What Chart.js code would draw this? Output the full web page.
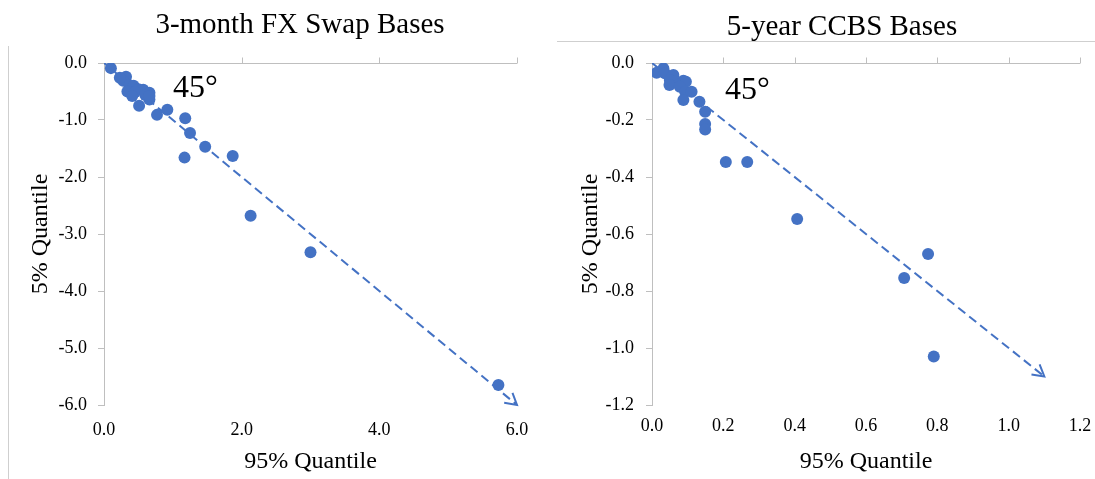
<!DOCTYPE html>
<html>
<head>
<meta charset="utf-8">
<script src="https://cdn.jsdelivr.net/npm/chart.js@4"></script>
<style>
  html, body { margin: 0; padding: 0; background: #fff; }
  #wrap { position: relative; width: 1095px; height: 479px; overflow: hidden; font-family: 'Liberation Serif', 'Times New Roman', serif; }
  canvas { position: absolute; top: 0; }
  .ttl { position: absolute; font-size: 29px; color: #000; white-space: nowrap; transform: translate(-50%, -50%); }
  .deg { position: absolute; font-size: 32px; color: #000; white-space: nowrap; transform: translateY(-50%); }
  .frame { position: absolute; background: #cfcfcf; }
</style>
</head>
<body>
<div id="wrap">
  <div class="frame" style="left:8px;top:46px;width:1px;height:433px;"></div>
  <div class="frame" style="left:557px;top:41px;width:538px;height:1px;"></div>
  <canvas id="c1" width="548" height="479" style="left:0;"></canvas>
  <canvas id="c2" width="547" height="479" style="left:548px;"></canvas>
  <div class="ttl" style="left:300px;top:23px;">3-month FX Swap Bases</div>
  <div class="ttl" style="left:842px;top:25px;">5-year CCBS Bases</div>
  <div class="deg" style="left:173px;top:86px;">45°</div>
  <div class="deg" style="left:725px;top:88px;">45°</div>
</div>
<script>
// ---- Data: 3-month FX swap bases (95% quantile, 5% quantile) ----
const fxX = [0.10, 0.32, 0.28, 0.37, 0.43, 0.34, 0.50, 0.57, 0.66, 0.66, 0.51, 0.77, 0.92, 1.18, 1.25, 1.47, 1.87, 1.17, 2.13, 3.00, 5.73, 0.23, 0.45, 0.60, 0.41, 0.66];
const fxY = [-0.09, -0.24, -0.31, -0.39, -0.40, -0.50, -0.46, -0.47, -0.52, -0.64, -0.75, -0.91, -0.82, -0.97, -1.23, -1.47, -1.63, -1.66, -2.68, -3.32, -5.65, -0.26, -0.51, -0.56, -0.58, -0.58];
const fxLine = [[0, 0], [6, -6]];
const fxXTicks = [0, 2, 4, 6];
const fxYTicks = [0, -1, -2, -3, -4, -5, -6];

// ---- Data: 5-year CCBS bases ----
const ccX = [0.013, 0.032, 0.036, 0.060, 0.050, 0.064, 0.049, 0.088, 0.095, 0.078, 0.093, 0.111, 0.088, 0.133, 0.149, 0.149, 0.149, 0.207, 0.267, 0.407, 0.707, 0.774, 0.790];
const ccY = [-0.034, -0.019, -0.036, -0.042, -0.060, -0.066, -0.077, -0.062, -0.066, -0.083, -0.101, -0.101, -0.130, -0.136, -0.171, -0.214, -0.233, -0.347, -0.347, -0.547, -0.754, -0.670, -1.030];
const ccLine = [[0, 0], [1.1, -1.1]];
const ccXTicks = [0, 0.2, 0.4, 0.6, 0.8, 1.0, 1.2];
const ccYTicks = [0, -0.2, -0.4, -0.6, -0.8, -1.0, -1.2];

const BLUE = '#4472C4';
const GRAY = '#bfbfbf';
const FONT = "'Liberation Serif', 'Times New Roman', serif";

// Arrowhead + top tick marks plugin
const decor = {
  id: 'decor',
  afterDatasetsDraw(chart) {
    const ctx = chart.ctx;
    const xs = chart.scales.x, ys = chart.scales.y;
    ctx.save();
    ctx.strokeStyle = GRAY;
    ctx.lineWidth = 1;
    const y0 = Math.round(ys.getPixelForValue(0)) + 0.5;
    xs.ticks.forEach(t => {
      if (t.value === 0) return;
      const px = Math.round(xs.getPixelForValue(t.value)) + 0.5;
      ctx.beginPath();
      ctx.moveTo(px, y0);
      ctx.lineTo(px, y0 - 6);
      ctx.stroke();
    });
    ctx.restore();
    const meta = chart.getDatasetMeta(1);
    const pts = meta.data;
    if (pts.length < 2) return;
    const a = pts[pts.length - 2], b = pts[pts.length - 1];
    const ang = Math.atan2(b.y - a.y, b.x - a.x);
    const L = 13, spread = Math.PI / 6;
    ctx.save();
    ctx.strokeStyle = BLUE;
    ctx.lineWidth = 2;
    ctx.beginPath();
    ctx.moveTo(b.x - L * Math.cos(ang - spread), b.y - L * Math.sin(ang - spread));
    ctx.lineTo(b.x, b.y);
    ctx.lineTo(b.x - L * Math.cos(ang + spread), b.y - L * Math.sin(ang + spread));
    ctx.stroke();
    ctx.restore();
  }
};

function makeChart(id, xs, ys, line, xTicks, yTicks, o) {
  const pts = xs.map((x, i) => ({ x: x, y: ys[i] }));
  const linePts = line.map(p => ({ x: p[0], y: p[1] }));
  return new Chart(document.getElementById(id), {
    type: 'scatter',
    data: {
      datasets: [
        { data: pts, backgroundColor: BLUE, borderColor: BLUE, pointRadius: 6, pointHoverRadius: 6, borderWidth: 0, order: 0 },
        { data: linePts, showLine: true, borderColor: BLUE, borderWidth: 2, borderDash: [9, 5], pointRadius: 0, fill: false, order: 1 }
      ]
    },
    options: {
      responsive: false,
      devicePixelRatio: 1,
      animation: false,
      layout: { padding: { top: 63, right: o.padRight, left: 0, bottom: 0 } },
      plugins: { legend: { display: false }, tooltip: { enabled: false }, title: { display: false } },
      scales: {
        x: {
          type: 'linear', position: 'bottom',
          min: xTicks[0], max: xTicks[xTicks.length - 1],
          afterBuildTicks: s => { s.ticks = xTicks.map(v => ({ value: v })); },
          afterFit: s => { s.height = 74; s.paddingLeft = 0; s.paddingRight = 0; },
          grid: { display: false, drawTicks: false },
          border: { display: false },
          ticks: { color: '#000', font: { family: FONT, size: 18 }, padding: o.xPad, callback: v => Number(v).toFixed(1), maxRotation: 0 },
          title: { display: true, text: '95% Quantile', color: '#000', font: { family: FONT, size: 24 }, padding: { top: 0, bottom: 3 } }
        },
        y: {
          type: 'linear', position: 'left',
          min: yTicks[yTicks.length - 1], max: yTicks[0],
          afterBuildTicks: s => { s.ticks = yTicks.map(v => ({ value: v })); },
          afterFit: s => { s.width = 104; s.paddingTop = 0; s.paddingBottom = 0; },
          grid: {
            color: c => (c.tick && Math.abs(c.tick.value) < 1e-9) ? GRAY : 'rgba(0,0,0,0)',
            tickColor: GRAY, tickLength: 6, drawTicks: true, lineWidth: 1
          },
          border: { display: true, color: GRAY, width: 1 },
          ticks: { color: '#000', font: { family: FONT, size: 18 }, padding: o.yPad, callback: v => Number(v).toFixed(1) },
          title: { display: true, text: '5% Quantile', color: '#000', font: { family: FONT, size: 24 }, padding: { top: o.yTitlePad, bottom: 0 } }
        }
      }
    },
    plugins: [decor]
  });
}

makeChart('c1', fxX, fxY, fxLine, fxXTicks, fxYTicks, { padRight: 31, xPad: 14, yPad: 11, yTitlePad: 26 });
makeChart('c2', ccX, ccY, ccLine, ccXTicks, ccYTicks, { padRight: 15, xPad: 10, yPad: 12, yTitlePad: 28 });
</script>
</body>
</html>
